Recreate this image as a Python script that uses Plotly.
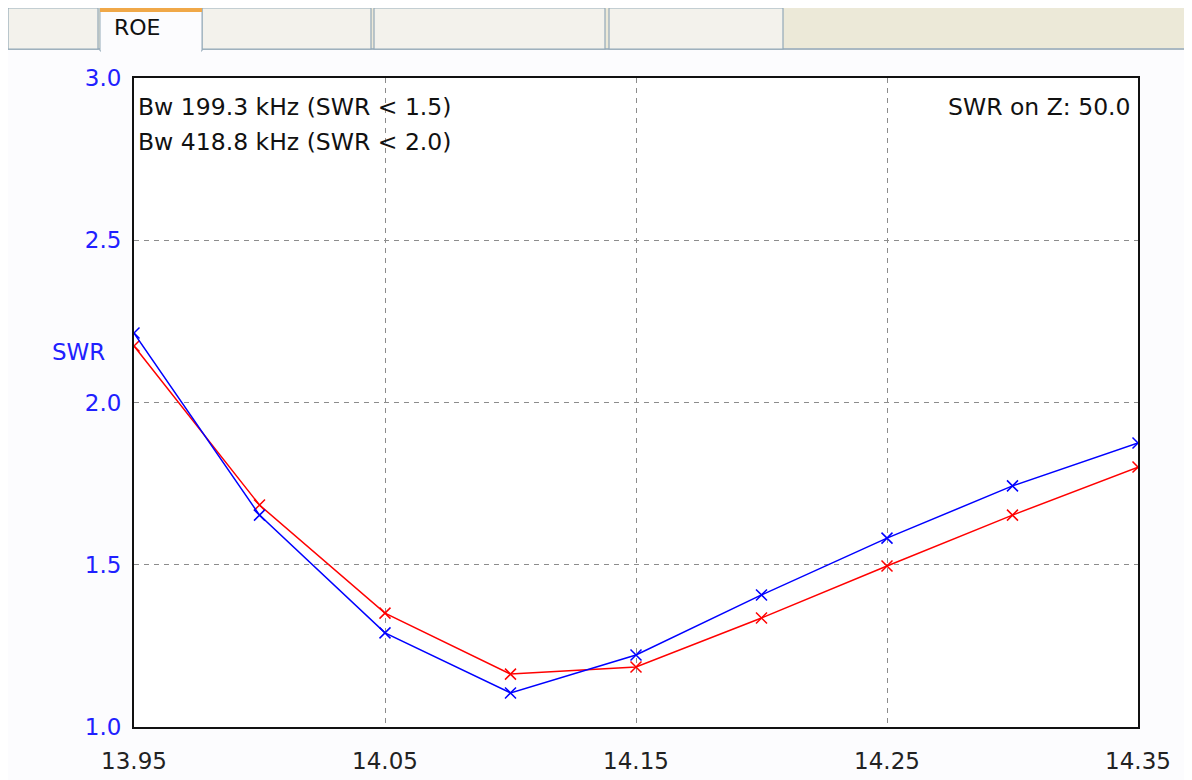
import plotly.graph_objects as go

freq = [13.95, 14.00, 14.05, 14.10, 14.15, 14.20, 14.25, 14.30, 14.35]
swr_blue = [2.214, 1.653, 1.290, 1.105, 1.222, 1.407, 1.582, 1.743, 1.875]
swr_red = [2.174, 1.684, 1.351, 1.163, 1.185, 1.336, 1.496, 1.653, 1.801]
x_ticks = [13.95, 14.05, 14.15, 14.25, 14.35]
x_tick_text = ["13.95", "14.05", "14.15", "14.25", "14.35"]
y_ticks = [1.0, 1.5, 2.0, 2.5, 3.0]
y_tick_text = ["1.0", "1.5", "2.0", "2.5", "3.0"]
info_left = ["Bw 199.3 kHz (SWR &lt; 1.5)", "Bw 418.8 kHz (SWR &lt; 2.0)"]
info_right = "SWR on Z: 50.0"
y_title = "SWR"
tab_label = "ROE"

OFF = 8  # default body margin of the html page
PAGE_W, PAGE_H = 1192, 780
W, H = PAGE_W - OFF, PAGE_H - OFF
# plot area in page pixel coordinates
L, R, T, B = 134, 1138, 78, 727
PW, PH = R - L, B - T


def px(X):
    return (X - L) / PW


def py(Y):
    return (B - Y) / PH


FONT = "DejaVu Sans, Verdana, sans-serif"

fig = go.Figure()
fig.add_trace(go.Scatter(
    x=freq, y=swr_red, mode="lines+markers",
    line=dict(color="#ff0000", width=1.5),
    marker=dict(symbol="x-thin", size=11, line=dict(color="#ff0000", width=1.5)),
    showlegend=False))
fig.add_trace(go.Scatter(
    x=freq, y=swr_blue, mode="lines+markers",
    line=dict(color="#0000ff", width=1.5),
    marker=dict(symbol="x-thin", size=11, line=dict(color="#0000ff", width=1.5)),
    showlegend=False))

shapes = []
# window tab strip
shapes.append(dict(type="rect", xref="paper", yref="paper",
                   x0=px(OFF), x1=px(PAGE_W), y0=py(48), y1=py(OFF),
                   fillcolor="#ece9d8", line=dict(width=0), layer="above"))
shapes.append(dict(type="rect", xref="paper", yref="paper",
                   x0=px(OFF), x1=px(PAGE_W), y0=py(50), y1=py(48),
                   fillcolor="#a9b8c2", line=dict(width=0), layer="above"))
for (a, b) in [(6, 98), (202, 371), (374, 605), (609, 783)]:
    shapes.append(dict(type="rect", xref="paper", yref="paper",
                       x0=px(max(a, OFF)), x1=px(b), y0=py(49), y1=py(8),
                       fillcolor="#f3f2ec", line=dict(color="#93a9b8", width=1.2),
                       layer="above"))
shapes.append(dict(type="rect", xref="paper", yref="paper",
                   x0=px(100), x1=px(202), y0=py(51), y1=py(OFF),
                   fillcolor="#fcfcfe", line=dict(color="#93a9b8", width=1),
                   layer="above"))
shapes.append(dict(type="rect", xref="paper", yref="paper",
                   x0=px(100), x1=px(202), y0=py(12), y1=py(OFF),
                   fillcolor="#f0a848", line=dict(width=0), layer="above"))
shapes.append(dict(type="rect", xref="paper", yref="paper",
                   x0=px(101), x1=px(201), y0=py(52), y1=py(48),
                   fillcolor="#fcfcfe", line=dict(width=0), layer="above"))

annotations = []
for i, t in enumerate(info_left):
    annotations.append(dict(text=t, xref="paper", yref="paper",
                            x=px(136), y=py(107 + 35 * i), xanchor="left", yanchor="middle",
                            showarrow=False, font=dict(family=FONT, size=23.5, color="#111111")))
annotations.append(dict(text=info_right, xref="paper", yref="paper",
                        x=px(1133), y=py(107), xanchor="right", yanchor="middle",
                        showarrow=False, font=dict(family=FONT, size=23.5, color="#111111")))
annotations.append(dict(text=y_title, xref="paper", yref="paper",
                        x=px(50), y=py(352), xanchor="left", yanchor="middle",
                        showarrow=False, font=dict(family=FONT, size=23, color="#2020ff")))
annotations.append(dict(text=tab_label, xref="paper", yref="paper",
                        x=px(112), y=py(28), xanchor="left", yanchor="middle",
                        showarrow=False, font=dict(family=FONT, size=22, color="#111111")))

fig.update_layout(
    width=W, height=H,
    margin=dict(l=L - OFF, r=PAGE_W - R, t=T - OFF, b=PAGE_H - B, pad=0),
    paper_bgcolor="#fcfcfe", plot_bgcolor="#ffffff",
    shapes=shapes, annotations=annotations,
    xaxis=dict(range=[13.95, 14.35], tickvals=x_ticks, ticktext=x_tick_text,
               showgrid=True, gridcolor="#8c8c8c", griddash="5px,5px", gridwidth=1,
               showline=True, linecolor="#111111", linewidth=2, mirror=True,
               zeroline=False, ticks="outside", ticklen=12, tickcolor="rgba(0,0,0,0)",
               automargin=False,
               tickfont=dict(family=FONT, size=23, color="#222222"), fixedrange=True),
    yaxis=dict(range=[1.0, 3.0], tickvals=y_ticks, ticktext=y_tick_text,
               showgrid=True, gridcolor="#8c8c8c", griddash="5px,5px", gridwidth=1,
               showline=True, linecolor="#111111", linewidth=2, mirror=True,
               zeroline=False, ticks="outside", ticklen=6, tickcolor="rgba(0,0,0,0)",
               automargin=False,
               tickfont=dict(family=FONT, size=23, color="#2020ff"), fixedrange=True),
)

fig.write_html("out.html")
